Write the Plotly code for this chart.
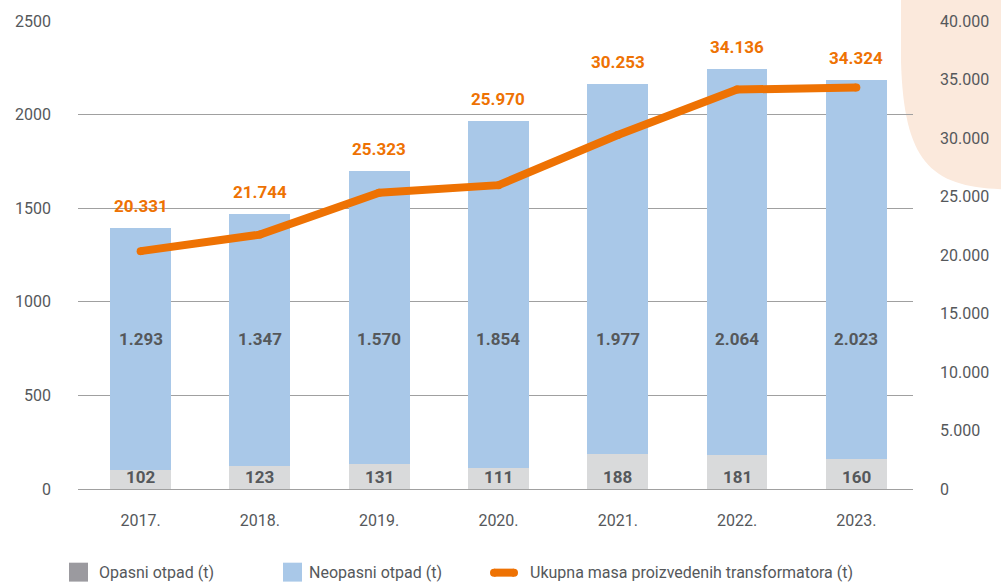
import plotly.graph_objects as go

years = ["2017.", "2018.", "2019.", "2020.", "2021.", "2022.", "2023."]
opasni = [102, 123, 131, 111, 188, 181, 160]
neopasni = [1293, 1347, 1570, 1854, 1977, 2064, 2023]
masa = [20331, 21744, 25323, 25970, 30253, 34136, 34324]

GREY_BAR = "#d9dadb"
GREY_LEG = "#9b9a9f"
BLUE = "#a9c8e8"
ORANGE = "#ee7203"
TXT = "#55585b"
FONT = "Roboto"

L, R, T, B = 78, 88, 19, 96
W, H = 1001, 585
PW, PH = W - L - R, H - T - B


def px(x):
    return (x - L) / PW


def py(y):
    return (H - B - y) / PH


def th(v):
    return f"{v:,}".replace(",", ".")


fig = go.Figure()
fig.add_trace(go.Bar(x=years, y=opasni, marker=dict(color=GREY_BAR, line_width=0),
                     name="Opasni otpad (t)", showlegend=False))
fig.add_trace(go.Bar(x=years, y=neopasni, marker=dict(color=BLUE, line_width=0),
                     name="Neopasni otpad (t)", showlegend=False))
fig.add_trace(go.Scatter(x=years, y=masa, yaxis="y2", mode="lines+markers",
                         line=dict(color=ORANGE, width=8),
                         marker=dict(color=ORANGE, size=8),
                         name="Ukupna masa proizvedenih transformatora (t)", showlegend=False))

ann = []
for i, yr in enumerate(years):
    ann.append(dict(x=i, y=64, xref="x", yref="y", text=str(opasni[i]), showarrow=False,
                    font=dict(family=FONT, size=17, color=TXT, weight="bold")))
    ann.append(dict(x=i, y=800, xref="x", yref="y", text=th(neopasni[i]), showarrow=False,
                    font=dict(family=FONT, size=17, color=TXT, weight="bold")))
    ann.append(dict(x=i, y=opasni[i] + neopasni[i], xref="x", yref="y", yshift=22,
                    text=th(masa[i]), showarrow=False, yanchor="middle",
                    font=dict(family=FONT, size=17, color=ORANGE, weight="bold")))

# legend (manual)
leg_items = [(97, "Opasni otpad (t)"), (307, "Neopasni otpad (t)"),
             (528, "Ukupna masa proizvedenih transformatora (t)")]
for x0, t in leg_items:
    ann.append(dict(x=px(x0), y=py(573), xref="paper", yref="paper", text=t, showarrow=False,
                    xanchor="left", yanchor="middle",
                    font=dict(family=FONT, size=16, color=TXT)))

shapes = [
    dict(type="path", xref="paper", yref="paper", layer="below",
         path=(f"M {px(901)},{py(-2)} L {px(901)},{py(60)} "
               f"C {px(904)},{py(160)} {px(930)},{py(186)} {px(1003)},{py(188)} "
               f"L {px(1003)},{py(-2)} Z"),
         fillcolor="#fbe9dc", line=dict(width=0)),
    dict(type="rect", xref="paper", yref="paper", x0=px(69), x1=px(88), y0=py(563), y1=py(582),
         fillcolor=GREY_LEG, line=dict(width=0)),
    dict(type="rect", xref="paper", yref="paper", x0=px(283), x1=px(302), y0=py(563), y1=py(582),
         fillcolor=BLUE, line=dict(width=0)),
    dict(type="line", xref="paper", yref="paper", x0=px(494), x1=px(514), y0=py(573), y1=py(573),
         line=dict(color=ORANGE, width=8)),
    dict(type="circle", xref="paper", yref="paper", x0=px(490), x1=px(498), y0=py(569), y1=py(577),
         fillcolor=ORANGE, line=dict(width=0)),
    dict(type="circle", xref="paper", yref="paper", x0=px(510), x1=px(518), y0=py(569), y1=py(577),
         fillcolor=ORANGE, line=dict(width=0)),
]

fig.update_layout(
    width=W, height=H,
    margin=dict(l=L, r=R, t=T, b=B, pad=0),
    paper_bgcolor="white", plot_bgcolor="rgba(0,0,0,0)",
    barmode="stack", bargap=0.49,
    separators=",.",
    font=dict(family=FONT, size=16, color=TXT),
    xaxis=dict(type="category", range=[-0.525, len(years) - 0.525], showgrid=False,
               showline=False, zeroline=False, ticks="", ticklabelstandoff=20,
               tickfont=dict(size=16, color=TXT)),
    yaxis=dict(range=[0, 2500], dtick=500, tickformat="d", showgrid=True,
               gridcolor="#a0a0a0", gridwidth=1, zeroline=True, zerolinecolor="#a0a0a0",
               zerolinewidth=1, showline=False, ticks="", ticklabelstandoff=26,
               tickfont=dict(size=16, color=TXT)),
    yaxis2=dict(range=[0, 40000], dtick=5000, tickformat=",d", overlaying="y", side="right",
                showgrid=False, zeroline=False, showline=False, ticks="", ticklabelstandoff=26,
                tickfont=dict(size=16, color=TXT)),
    annotations=ann, shapes=shapes,
    showlegend=False,
)

fig.write_html("out.html", config={"displayModeBar": False},
               post_script="document.body.style.margin='0px';")
